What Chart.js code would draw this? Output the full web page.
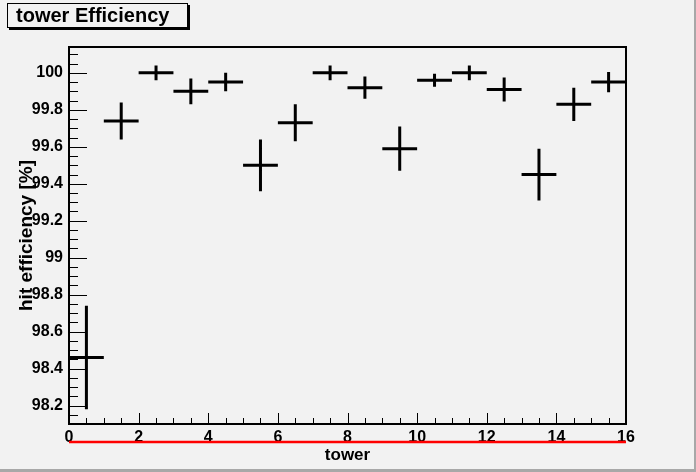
<!DOCTYPE html>
<html>
<head>
<meta charset="utf-8">
<script src="https://cdn.jsdelivr.net/npm/chart.js@4"></script>
<style>
  html, body { margin: 0; padding: 0; background: #f2f2f2; }
  #wrap { width: 696px; height: 472px; position: relative; }
</style>
</head>
<body>
<div id="wrap"><canvas id="effChart" width="696" height="472"></canvas></div>
<script>
// tower bin centres, efficiency [%] and its error
const towers = [0.5, 1.5, 2.5, 3.5, 4.5, 5.5, 6.5, 7.5, 8.5, 9.5, 10.5, 11.5, 12.5, 13.5, 14.5, 15.5];
const efficiency = [98.46, 99.74, 100.0, 99.90, 99.95, 99.50, 99.73, 100.0, 99.92, 99.59, 99.96, 100.0, 99.91, 99.45, 99.83, 99.95];
const effError = [0.28, 0.10, 0.04, 0.07, 0.05, 0.14, 0.10, 0.04, 0.06, 0.12, 0.035, 0.04, 0.065, 0.14, 0.09, 0.055];
const binHalfWidth = 0.5;

const FONT = "'Liberation Sans', Arial, Helvetica, sans-serif";

// horizontal (bin width) and vertical (error) segments, separated by gaps
const hSegs = [];
const vSegs = [];
towers.forEach(function (x, i) {
    hSegs.push({x: x - binHalfWidth, y: efficiency[i]}, {x: x + binHalfWidth, y: efficiency[i]}, {x: x + binHalfWidth, y: null});
    vSegs.push({x: x, y: efficiency[i] - effError[i]}, {x: x, y: efficiency[i] + effError[i]}, {x: x, y: null});
});

// ROOT style frame, inward ticks, title box
const rootStyle = {
    id: 'rootStyle',
    afterDraw: function (chart) {
        const c = chart.ctx;
        const a = chart.chartArea;
        const xs = chart.scales.x, ys = chart.scales.y;
        c.save();
        c.strokeStyle = '#000';
        c.lineWidth = 2;
        c.strokeRect(a.left, a.top, a.right - a.left, a.bottom - a.top);

        // inward ticks, 4 subdivisions per major step
        c.lineWidth = 1;
        c.beginPath();
        const xStep = xs.ticks[1].value - xs.ticks[0].value;
        for (let v = xs.min; v <= xs.max + 1e-9; v += xStep / 4) {
            const px = Math.round(xs.getPixelForValue(v)) + 0.5;
            const major = Math.abs(v / xStep - Math.round(v / xStep)) < 1e-6;
            c.moveTo(px, a.bottom);
            c.lineTo(px, a.bottom - (major ? 11 : 6));
        }
        const yStep = ys.ticks[1].value - ys.ticks[0].value;
        const y0 = Math.ceil(ys.min / (yStep / 4) - 1e-6) * (yStep / 4);
        for (let v = y0; v <= ys.max + 1e-9; v += yStep / 4) {
            const py = Math.round(ys.getPixelForValue(v)) + 0.5;
            const major = Math.abs(v / yStep - Math.round(v / yStep)) < 1e-6;
            c.moveTo(a.left, py);
            c.lineTo(a.left + (major ? 18 : 9), py);
        }
        c.stroke();

        // red line below the axis
        c.strokeStyle = '#ff0000';
        c.lineWidth = 2.5;
        c.beginPath();
        c.moveTo(a.left, a.bottom + 18);
        c.lineTo(a.right, a.bottom + 18);
        c.stroke();

        // title box with shadow
        c.fillStyle = '#000';
        c.fillRect(9, 5, 181, 25);
        c.fillStyle = '#f2f2f2';
        c.fillRect(7, 3, 181, 25);
        c.strokeStyle = '#000';
        c.lineWidth = 1;
        c.strokeRect(7.5, 3.5, 180, 24);
        c.fillStyle = '#000';
        c.font = 'bold 20px ' + FONT;
        c.textBaseline = 'middle';
        c.textAlign = 'left';
        c.fillText('tower Efficiency', 16, 16);

        // canvas border
        c.fillStyle = '#a8a8a8';
        c.fillRect(694, 0, 2, 472);
        c.fillRect(0, 469, 696, 3);
        c.restore();
    }
};

const ctx = document.getElementById('effChart').getContext('2d');
const effChart = new Chart(ctx, {
    type: 'line',
    data: {
        datasets: [
            {
                data: hSegs,
                borderColor: '#000',
                borderWidth: 3,
                pointRadius: 0,
                spanGaps: false,
                tension: 0,
            },
            {
                data: vSegs,
                borderColor: '#000',
                borderWidth: 3,
                pointRadius: 0,
                spanGaps: false,
                tension: 0,
            }
        ]
    },
    options: {
        responsive: false,
        animation: false,
        layout: {
            padding: {left: 0, right: 70, top: 47, bottom: 0}
        },
        plugins: {
            legend: {display: false},
            tooltip: {enabled: false}
        },
        scales: {
            x: {
                type: 'linear',
                min: 0,
                max: 16,
                afterFit: function (s) { s.height = 48; },
                grid: {display: false, drawTicks: false},
                border: {display: false},
                ticks: {
                    stepSize: 2,
                    padding: 4,
                    color: '#000',
                    maxRotation: 0,
                    font: {family: FONT, size: 16, weight: 'bold'}
                },
                title: {
                    display: true,
                    text: 'tower',
                    color: '#000',
                    font: {family: FONT, size: 17, weight: 'bold'},
                    padding: {top: 0, bottom: 6}
                }
            },
            y: {
                min: 98.1,
                max: 100.14,
                afterFit: function (s) { s.width = 69; },
                grid: {display: false, drawTicks: false},
                border: {display: false},
                ticks: {
                    stepSize: 0.2,
                    includeBounds: false,
                    padding: 6,
                    color: '#000',
                    font: {family: FONT, size: 16, weight: 'bold'},
                    callback: function (v) { return String(Number(v.toFixed(2))); }
                },
                title: {
                    display: true,
                    text: 'hit efficiency [%]',
                    color: '#000',
                    font: {family: FONT, size: 19, weight: 'bold'},
                    padding: {top: 15, bottom: 0}
                }
            }
        }
    },
    plugins: [rootStyle]
});
</script>
</body>
</html>
